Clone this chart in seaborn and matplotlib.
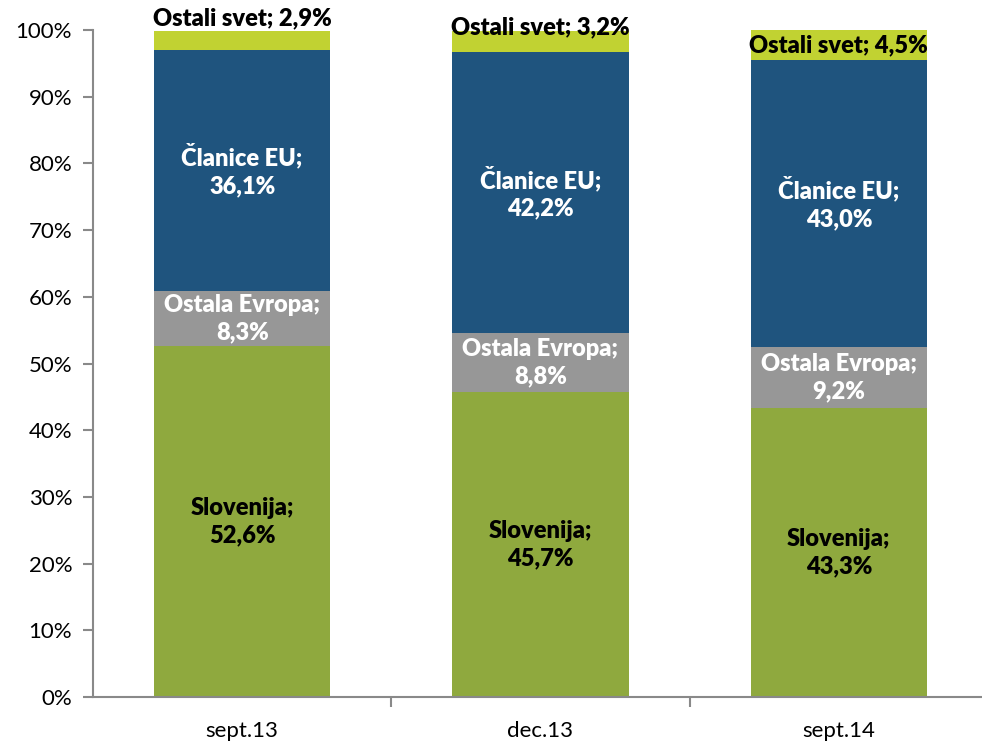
import matplotlib
matplotlib.use("Agg")
import matplotlib.pyplot as plt
import seaborn as sns
import numpy as np
import pandas as pd

categories = ["sept.13", "dec.13", "sept.14"]
series_names = ["Slovenija", "Ostala Evropa", "Članice EU", "Ostali svet"]
slovenija = [52.6, 45.7, 43.3]
ostala_evropa = [8.3, 8.8, 9.2]
clanice_eu = [36.1, 42.2, 43.0]
ostali_svet = [2.9, 3.2, 4.5]
colors = ["#8FA93E", "#979797", "#1F547E", "#C1D232"]
label_colors = ["black", "white", "white", "black"]
yticks = [0, 10, 20, 30, 40, 50, 60, 70, 80, 90, 100]

sns.set_theme(style="white")
plt.rcParams['font.family'] = ['Lato', 'DejaVu Sans']

values = [slovenija, ostala_evropa, clanice_eu, ostali_svet]
cum = np.cumsum(np.array(values), axis=0)

fig = plt.figure(figsize=(9.82, 7.43), dpi=100)
ax = fig.add_axes([93/982, 46/743, 895/982, 667/743])

# draw cumulative totals from top to bottom so lower segments overlay
for i in range(len(values) - 1, -1, -1):
    df = pd.DataFrame({"cat": categories, "val": cum[i]})
    sns.barplot(data=df, x="cat", y="val", color=colors[i], saturation=1,
                width=0.59, ax=ax, linewidth=0)

ax.set_xlim(-0.5, 2.5)
ax.set_ylim(0, 100)
ax.set_yticks(yticks)
ax.set_yticklabels([f"{t}%" for t in yticks], fontsize=16, color="black")
ax.set_xlabel("")
ax.set_ylabel("")
ax.set_xticks([0, 1, 2])
ax.set_xticklabels(categories, fontsize=16, color="black")
ax.set_xticks([0.5, 1.5, 2.5], minor=True)
ax.tick_params(axis="x", which="major", length=0, pad=17, bottom=True)
ax.tick_params(axis="x", which="minor", length=7, color="#898989", width=1.5,
               direction="out", bottom=True)
ax.tick_params(axis="y", length=7, color="#898989", width=1.5, direction="out",
               pad=8, left=True)
for s in ["top", "right"]:
    ax.spines[s].set_visible(False)
for s in ["left", "bottom"]:
    ax.spines[s].set_color("#898989")
    ax.spines[s].set_linewidth(1.5)

label_kw = dict(fontsize=17, fontweight="heavy", clip_on=False)
top_label_y = [101.8, 100.4, 97.7]

for j in range(len(categories)):
    for i, name in enumerate(series_names):
        v = values[i][j]
        bottom = cum[i][j] - v
        txt_val = f"{v:.1f}".replace(".", ",") + "%"
        if i == 3:
            ax.text(j, top_label_y[j], f"{name}; {txt_val}", ha="center",
                    va="center", color="black", **label_kw)
        else:
            center = bottom + v / 2
            ax.text(j, center, f"{name};\n{txt_val}", ha="center", va="center",
                    color=label_colors[i], linespacing=1.3, **label_kw)

fig.savefig("out.png", dpi=100)
